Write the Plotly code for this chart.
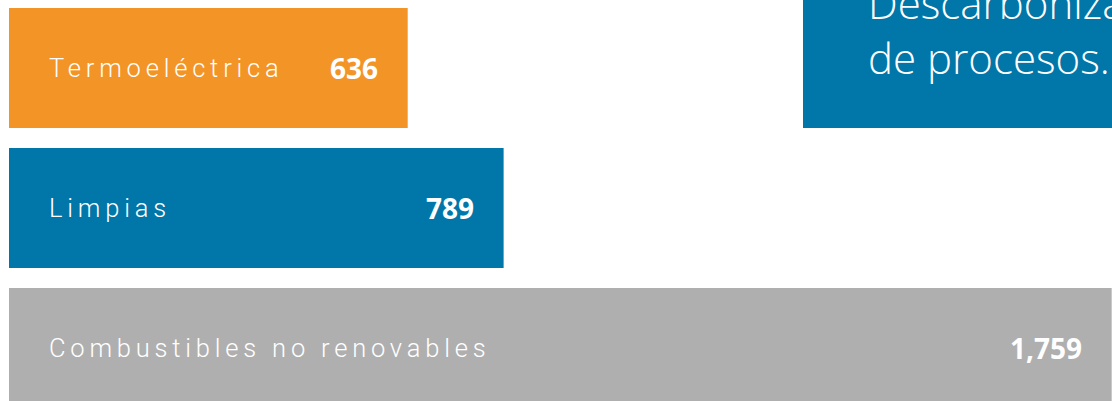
import plotly.graph_objects as go

# ---- data ----
categorias = ["Termoeléctrica", "Limpias", "Combustibles no renovables"]
valores = [636, 789, 1759]
etiquetas_valor = ["636", "789", "1,759"]
colores = ["#F39426", "#0176A8", "#AFAFAF"]

recuadro_lineas = ["Descarbonización", "de procesos."]
AZUL = "#0176A8"

W, H = 1112, 401
left_px = 9
row_px = 140
top_first_center = 68
x_max = 1759.5

fig = go.Figure()
fig.add_trace(go.Bar(
    y=list(range(len(categorias))),
    x=valores,
    orientation="h",
    marker=dict(color=colores, line=dict(width=0)),
    width=120 / row_px,
    hoverinfo="skip",
))

annotations = []
for i, (cat, lab) in enumerate(zip(categorias, etiquetas_valor)):
    annotations.append(dict(
        x=0, y=i, xref="x", yref="y", xanchor="left", yanchor="middle",
        xshift=38, showarrow=False,
        text=f'<span style="letter-spacing:4.8px">{cat}</span>',
        font=dict(family="Roboto", size=25.5, color="white", weight=300),
    ))
    annotations.append(dict(
        x=valores[i], y=i, xref="x", yref="y", xanchor="right", yanchor="middle",
        xshift=-28, showarrow=False,
        text=lab,
        font=dict(family="Open Sans", size=28, color="white", weight=700),
    ))

# decorative fragment of adjacent panel (top right)
shapes = [dict(type="rect", xref="paper", yref="paper",
               x0=803 / W, x1=1.05, y0=1 - 128 / H, y1=1.05,
               fillcolor=AZUL, line=dict(width=0), layer="above")]
annotations.append(dict(
    x=866 / W, y=1 - 30.5 / H, xref="paper", yref="paper", xanchor="left",
    yanchor="middle", align="left", showarrow=False,
    text="<br>".join(recuadro_lineas),
    font=dict(family="Open Sans", size=42, color="white", weight=300),
))

# plot area width chosen so the x axis spans 0..x_max from left_px to the right edge
fig.update_layout(
    width=W, height=H,
    margin=dict(l=0, r=0, t=0, b=0),
    paper_bgcolor="white", plot_bgcolor="white",
    showlegend=False,
    xaxis=dict(range=[-left_px * x_max / (W - left_px), x_max],
               visible=False, fixedrange=True),
    yaxis=dict(range=[(H - top_first_center) / row_px, -top_first_center / row_px],
               visible=False, fixedrange=True),
    annotations=annotations,
    shapes=shapes,
)

fig.write_html(
    "out.html",
    config={"displayModeBar": False, "staticPlot": True},
    post_script="document.body.style.margin='0';document.body.style.overflow='hidden';",
)
